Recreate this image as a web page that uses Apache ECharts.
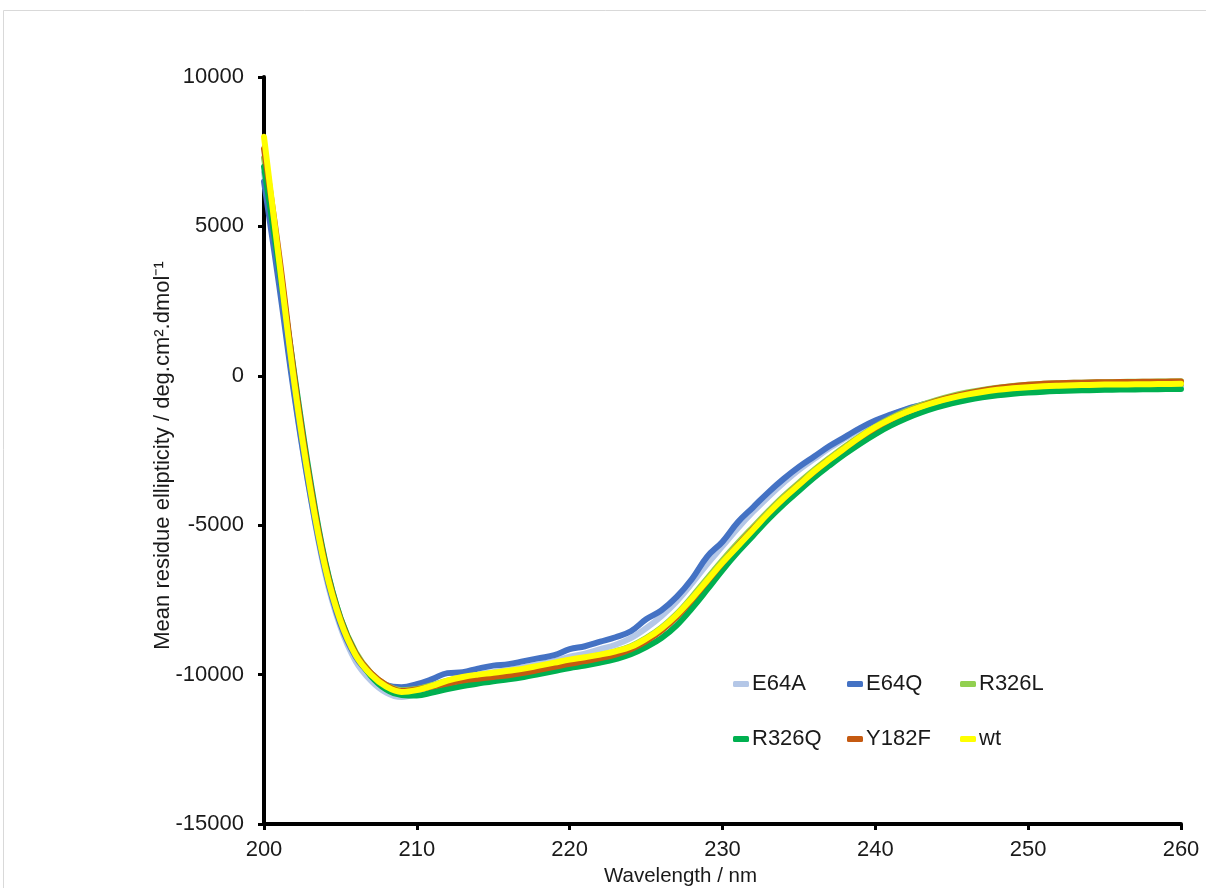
<!DOCTYPE html>
<html>
<head>
<meta charset="utf-8">
<script src="https://cdn.jsdelivr.net/npm/echarts@6/dist/echarts.min.js"></script>
<style>
html,body{margin:0;padding:0;background:#fff;}
#chart{width:1206px;height:888px;}
</style>
</head>
<body>
<div id="chart"></div>
<script>
const wavelengths = [];
for (let w = 200; w <= 260; w++) wavelengths.push(w);

const E64A = [6800,3200,-600,-3900,-6600,-8400,-9550,-10200,-10600,-10750,
  -10650,-10450,-10250,-10100,-10000,-9920,-9850,-9750,-9650,-9550,
  -9400,-9300,-9150,-9000,-8780,-8450,-8050,-7550,-6950,-6300,
  -5700,-5100,-4550,-4050,-3580,-3150,-2780,-2420,-2100,-1800,
  -1530,-1320,-1130,-980,-850,-740,-640,-560,-490,-440,
  -400,-370,-350,-335,-325,-315,-310,-305,-300,-295,-290];
const E64Q = [6500,3000,-700,-3900,-6500,-8300,-9400,-10000,-10350,-10420,
  -10320,-10150,-9950,-9920,-9800,-9700,-9650,-9550,-9450,-9350,
  -9150,-9050,-8900,-8750,-8550,-8150,-7850,-7400,-6800,-6050,
  -5550,-4900,-4400,-3900,-3450,-3050,-2700,-2350,-2050,-1750,
  -1500,-1300,-1120,-980,-850,-740,-640,-560,-490,-440,
  -400,-370,-350,-335,-325,-315,-310,-305,-300,-295,-290];
const R326L = [7300,3800,-150,-3550,-6250,-8100,-9250,-9950,-10350,-10520,
  -10480,-10350,-10200,-10100,-10030,-9970,-9910,-9830,-9730,-9630,
  -9530,-9440,-9340,-9220,-9050,-8780,-8430,-7970,-7400,-6780,
  -6170,-5600,-5060,-4530,-4030,-3580,-3150,-2750,-2370,-2020,
  -1700,-1420,-1180,-980,-810,-670,-560,-470,-400,-340,
  -300,-270,-250,-235,-225,-215,-205,-200,-195,-190,-185];
const R326Q = [7000,3600,0,-3400,-6200,-8100,-9300,-10050,-10500,-10680,
  -10700,-10600,-10480,-10380,-10300,-10220,-10160,-10080,-9980,-9880,
  -9780,-9700,-9600,-9480,-9320,-9080,-8780,-8350,-7780,-7150,
  -6500,-5900,-5350,-4800,-4300,-3850,-3400,-3000,-2620,-2270,
  -1950,-1670,-1430,-1230,-1060,-920,-810,-720,-650,-600,
  -560,-530,-510,-495,-480,-470,-460,-455,-450,-445,-440];
const Y182F = [7600,4000,-100,-3550,-6300,-8150,-9300,-9950,-10350,-10550,
  -10500,-10400,-10300,-10200,-10140,-10080,-10020,-9940,-9840,-9740,
  -9640,-9550,-9450,-9330,-9150,-8880,-8530,-8070,-7500,-6880,
  -6260,-5680,-5130,-4600,-4100,-3640,-3210,-2800,-2420,-2060,
  -1740,-1460,-1220,-1020,-850,-710,-590,-490,-410,-350,
  -300,-270,-250,-235,-225,-215,-210,-205,-200,-195,-190];
const wt = [8000,3800,-300,-3700,-6400,-8200,-9350,-10000,-10400,-10580,
  -10520,-10380,-10200,-10080,-10000,-9940,-9870,-9800,-9700,-9600,
  -9500,-9420,-9330,-9220,-9070,-8800,-8450,-8000,-7450,-6850,
  -6250,-5700,-5150,-4600,-4100,-3650,-3200,-2800,-2420,-2050,
  -1720,-1450,-1220,-1030,-870,-740,-630,-540,-470,-420,
  -380,-350,-330,-315,-305,-295,-290,-285,-280,-275,-270];

const seriesNames = ['E64A','E64Q','R326L','R326Q','Y182F','wt'];
const seriesData = [E64A,E64Q,R326L,R326Q,Y182F,wt];
const seriesColors = ['#B4C7E7','#4472C4','#92D050','#00B050','#C55A11','#FFFF00'];

const xTicks = [200,210,220,230,240,250,260];
const yTicks = [-15000,-10000,-5000,0,5000,10000];

const FONT = '"Liberation Sans", Arial, sans-serif';

const legendPos = [
  [733,673],[847,673],[960,673],
  [733,728],[847,728],[960,728]
];

const chart = echarts.init(document.getElementById('chart'), null, {renderer:'canvas'});
chart.setOption({
  animation: false,
  backgroundColor: '#fff',
  graphic: [{
    type: 'rect', silent: true, z: -10,
    shape: {x: 3.5, y: 10.5, width: 1210, height: 890},
    style: {fill: 'none', stroke: '#d9d9d9', lineWidth: 1}
  }],
  grid: {left: 264, right: 25, top: 77, bottom: 64, containLabel: false, outerBoundsMode: 'none'},
  legend: seriesNames.map((n, i) => ({
    data: [{name: n, icon: 'roundRect'}],
    left: legendPos[i][0], top: legendPos[i][1],
    padding: 0,
    itemWidth: 16, itemHeight: 6, itemGap: 0,
    textStyle: {fontFamily: FONT, fontSize: 22, color: '#1a1a1a', padding: [0,0,0,-2]},
    selectedMode: false
  })),
  xAxis: {
    type: 'value', min: 200, max: 260, interval: 10,
    name: 'Wavelength / nm', nameLocation: 'middle', nameGap: 42,
    nameMoveOverlap: false,
    nameTextStyle: {fontFamily: FONT, fontSize: 20.5, color: '#1a1a1a', padding: [0, 84, 0, 0]},
    axisLine: {show: true, onZero: false, lineStyle: {color: '#000', width: 4}},
    axisTick: {show: true, inside: false, length: 6, lineStyle: {color: '#000', width: 3}},
    axisLabel: {fontFamily: FONT, fontSize: 22, color: '#1a1a1a', margin: 15,
      formatter: v => xTicks.includes(v) ? String(v) : ''},
    splitLine: {show: false}
  },
  yAxis: {
    type: 'value', min: -15000, max: 10000, interval: 5000,
    name: 'Mean residue ellipticity / deg.cm\u00B2.dmol\u207B\u00B9',
    nameLocation: 'middle', nameGap: 90, nameRotate: 90,
    nameMoveOverlap: false,
    nameTextStyle: {fontFamily: FONT, fontSize: 22, color: '#1a1a1a', padding: [0, 10, 0, 0]},
    axisLine: {show: true, onZero: false, lineStyle: {color: '#000', width: 4}},
    axisTick: {show: true, inside: false, length: 6, lineStyle: {color: '#000', width: 3}},
    axisLabel: {fontFamily: FONT, fontSize: 22, color: '#1a1a1a', margin: 20,
      formatter: v => yTicks.includes(v) ? String(v) : ''},
    splitLine: {show: false}
  },
  series: seriesNames.map((n, i) => ({
    name: n, type: 'line',
    data: wavelengths.map((w, j) => [w, seriesData[i][j]]),
    showSymbol: false, smooth: 0.4,
    lineStyle: {color: seriesColors[i], width: 6, cap: 'round', join: 'round'},
    itemStyle: {color: seriesColors[i]},
    clip: true
  }))
});
</script>
</body>
</html>
